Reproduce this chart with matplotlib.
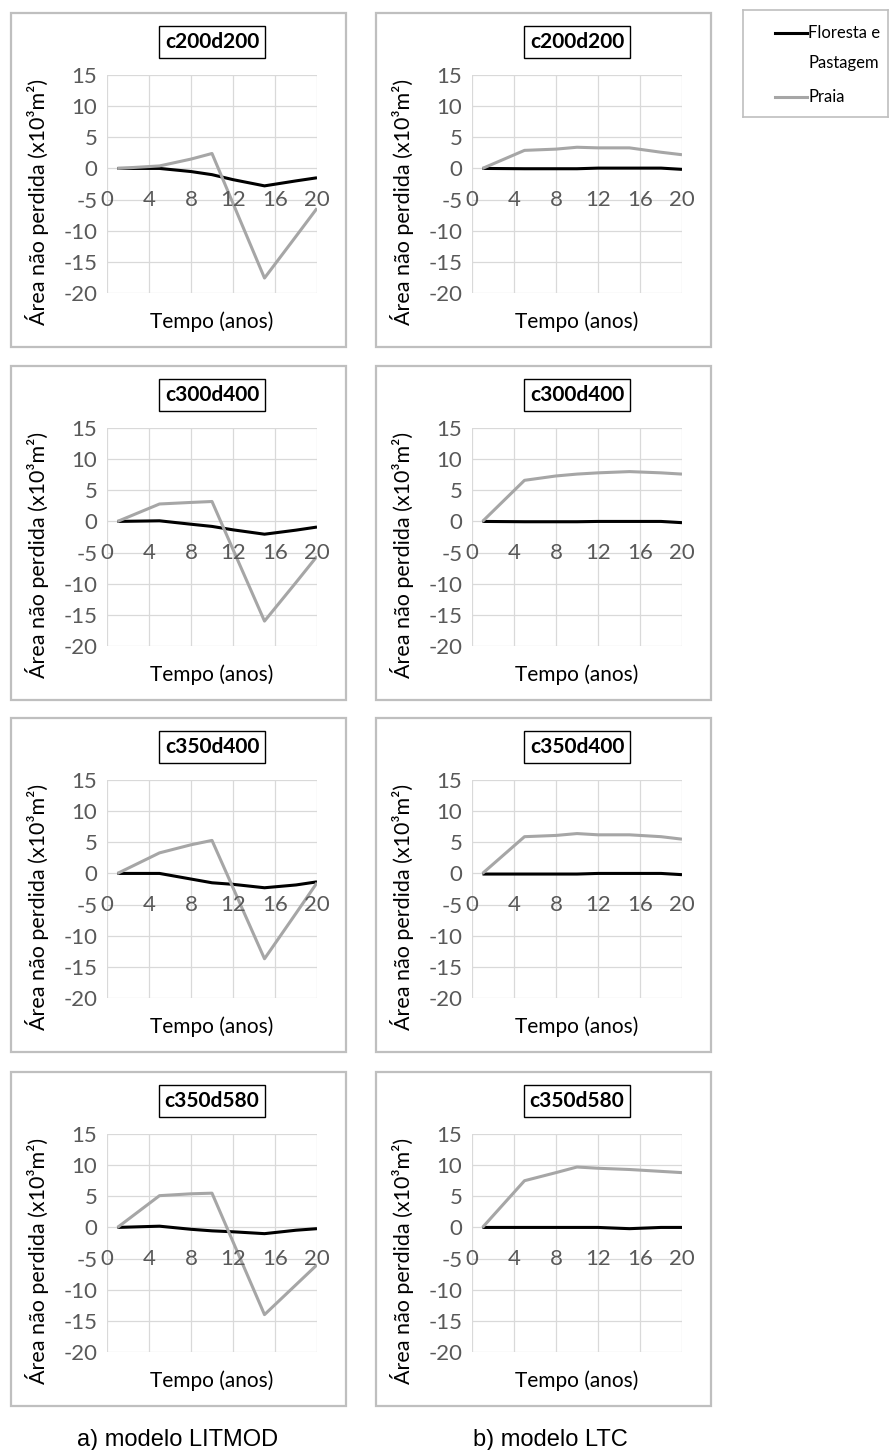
import matplotlib
matplotlib.use("Agg")
import matplotlib.pyplot as plt
from matplotlib.patches import Rectangle

# anos simulados e cenarios
years = [1, 5, 8, 10, 12, 15, 18, 20]
scenarios = ["c200d200", "c300d400", "c350d400", "c350d580"]

# area nao perdida (x10^3 m2), uma linha por cenario
litmod_floresta = [
    [0, 0, -0.5, -1.0, -1.8, -2.8, -2.0, -1.5],
    [0, 0.1, -0.45, -0.8, -1.35, -2.05, -1.4, -0.9],
    [0, 0, -0.9, -1.5, -1.75, -2.3, -1.85, -1.35],
    [0, 0.2, -0.3, -0.55, -0.7, -1.0, -0.45, -0.2],
]
litmod_praia = [
    [0, 0.4, 1.5, 2.4, -5.6, -17.6, -10.9, -6.4],
    [0, 2.8, 3.05, 3.2, -4.5, -16.0, -9.8, -5.6],
    [0, 3.3, 4.6, 5.3, -2.3, -13.7, -6.4, -1.5],
    [0, 5.1, 5.4, 5.5, -2.3, -14.0, -9.2, -6.0],
]
ltc_floresta = [
    [0, -0.05, -0.05, -0.05, 0.05, 0.05, 0.05, -0.15],
    [0, -0.05, -0.05, -0.05, 0, 0, 0, -0.2],
    [-0.1, -0.1, -0.1, -0.1, 0, 0, 0, -0.2],
    [0, 0, 0, 0, 0, -0.2, 0, 0],
]
ltc_praia = [
    [0, 2.9, 3.1, 3.4, 3.3, 3.3, 2.6, 2.2],
    [0, 6.6, 7.3, 7.6, 7.8, 8.0, 7.8, 7.6],
    [0, 5.9, 6.1, 6.4, 6.2, 6.2, 5.9, 5.5],
    [0, 7.5, 8.8, 9.7, 9.5, 9.3, 9.0, 8.8],
]

x_ticks = [0, 4, 8, 12, 16, 20]
y_ticks = [-20, -15, -10, -5, 0, 5, 10, 15]

W, H = 889, 1450
GRAY = "#a6a6a6"
TICK_COLOR = "#595959"
BORDER = "#bfbfbf"

plt.rcParams["font.family"] = ["Lato", "DejaVu Sans"]
plt.rcParams["axes.unicode_minus"] = False

fig = plt.figure(figsize=(W / 100, H / 100), dpi=100)


def fig_rect(left, top, width, height):
    # pixels (origem no topo) -> fracao da figura
    return [left / W, 1 - (top + height) / H, width / W, height / H]


def draw_panel(box_left, box_top, name, floresta, praia):
    # moldura do grafico
    fig.add_artist(Rectangle((box_left / W, 1 - (box_top + 334) / H), 335 / W, 334 / H,
                             transform=fig.transFigure, fill=False,
                             edgecolor=BORDER, linewidth=1.6))
    ax = fig.add_axes(fig_rect(box_left + 96, box_top + 62, 210, 218))
    ax.plot(years, floresta, color="black", linewidth=2.2, solid_capstyle="butt")
    ax.plot(years, praia, color=GRAY, linewidth=2.2, solid_capstyle="butt")
    ax.set_xlim(0, 20)
    ax.set_ylim(-20, 15)
    ax.set_xticks(x_ticks)
    ax.set_yticks(y_ticks)
    ax.grid(True, color="#d9d9d9", linewidth=0.9)
    ax.set_axisbelow(True)
    for s in ax.spines.values():
        s.set_visible(False)
    ax.tick_params(axis="both", length=0)
    ax.tick_params(axis="x", labelbottom=False)
    ax.tick_params(axis="y", labelsize=16, labelcolor=TICK_COLOR, pad=7)
    # rotulos do eixo x ficam junto ao eixo horizontal (y = 0)
    for t in x_ticks:
        ax.text(t, -5, str(t), ha="center", va="center", fontsize=16,
                color=TICK_COLOR)
    ax.set_ylabel("Área não perdida (x10³m²)", fontsize=15.5)
    ax.yaxis.set_label_coords(-0.276, 0.42)
    ax.set_xlabel("Tempo (anos)", fontsize=15)
    ax.xaxis.set_label_coords(0.5, -0.085)
    ax.text(0.5, 1 + 33 / 218, name, transform=ax.transAxes, ha="center",
            va="center", fontsize=15, fontweight="bold",
            bbox=dict(facecolor="white", edgecolor="black", linewidth=1.0,
                      boxstyle="square,pad=0.28"))
    return ax


row_tops = [13, 366, 718, 1072]
for i, name in enumerate(scenarios):
    draw_panel(11, row_tops[i], name, litmod_floresta[i], litmod_praia[i])
    draw_panel(376, row_tops[i], name, ltc_floresta[i], ltc_praia[i])

# legenda
leg = fig.add_axes(fig_rect(743, 10, 145, 107))
leg.set_xlim(0, 145)
leg.set_ylim(107, 0)
leg.set_xticks([])
leg.set_yticks([])
for s in leg.spines.values():
    s.set_color(BORDER)
    s.set_linewidth(1.2)
leg.plot([32, 64], [23, 23], color="black", linewidth=2.2)
leg.plot([32, 64], [87, 87], color=GRAY, linewidth=2.2)
leg.text(65, 23, "Floresta e", va="center", fontsize=12)
leg.text(65, 53, "Pastagem", va="center", fontsize=12)
leg.text(65, 87, "Praia", va="center", fontsize=12)

fig.text(178 / W, 1 - 1446 / H, "a) modelo LITMOD", ha="center", va="baseline",
         fontsize=17, family="Liberation Sans")
fig.text(550 / W, 1 - 1446 / H, "b) modelo LTC", ha="center", va="baseline",
         fontsize=17, family="Liberation Sans")

fig.savefig("out.png", dpi=100)
